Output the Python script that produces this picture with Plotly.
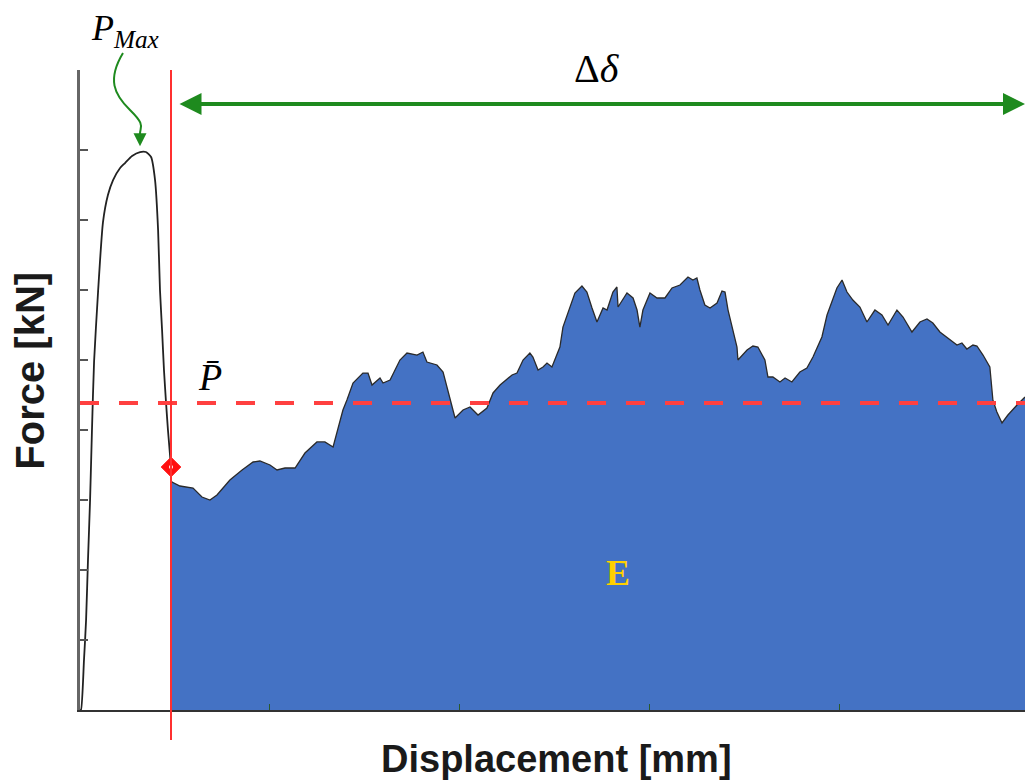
import plotly.graph_objects as go

# ---- data (displacement in mm, force in kN) ----
load_disp = [0.0, 0.05, 0.21, 0.32, 0.42, 0.53, 0.63, 0.74, 0.95, 1.21, 1.47, 1.74, 2.11, 2.37,
             2.74, 3.16, 3.47, 3.74, 3.95, 4.11, 4.21, 4.32, 4.42, 4.53, 4.63, 4.79]
load_force = [0.0, 0.0, 7.14, 12.86, 21.43, 30.0, 40.0, 49.71, 59.71, 69.71, 73.57, 75.71, 77.43, 78.14,
              79.14, 79.71, 79.71, 79.0, 75.71, 68.57, 60.0, 54.29, 48.57, 43.86, 40.0, 34.71]

crush_disp = [4.79, 4.84, 5.26, 5.95, 6.42, 6.84, 7.21, 7.89, 8.53, 9.11,
              9.47, 10.0, 10.37, 10.79, 11.32, 11.84, 12.47, 12.89, 13.32, 13.42,
              13.53, 13.84, 14.05, 14.37, 14.89, 15.16, 15.37, 15.79, 15.95, 16.32,
              16.84, 17.21, 17.74, 18.05, 18.26, 18.79, 19.11, 19.47, 19.74, 20.16,
              20.53, 20.95, 21.42, 21.74, 22.11, 22.74, 23.0, 23.32, 23.68, 23.84,
              24.11, 24.37, 24.58, 24.84, 25.26, 25.42, 25.79, 26.05, 26.42, 26.68,
              26.95, 27.21, 27.53, 27.74, 28.05, 28.26, 28.32, 28.79, 29.11, 29.32,
              29.47, 29.63, 30.0, 30.37, 30.79, 31.16, 31.58, 32.0, 32.26, 32.47,
              32.63, 32.89, 33.16, 33.53, 33.79, 33.95, 34.11, 34.37, 34.58, 34.63,
              35.11, 35.42, 35.68, 36.05, 36.21, 36.47, 36.84, 37.11, 37.47, 37.89,
              38.26, 38.58, 39.05, 39.32, 39.58, 39.84, 40.11, 40.37, 40.68, 41.05,
              41.42, 41.84, 42.21, 42.53, 43.0, 43.32, 43.79, 44.21, 44.58, 44.89,
              45.26, 45.79, 46.16, 46.42, 46.68, 47.0, 47.21, 47.53, 47.89, 48.05,
              48.26, 48.53, 48.84, 49.32, 49.74]
crush_force = [32.86, 32.57, 32.0, 31.71, 30.43, 30.0, 30.71, 32.86, 34.29, 35.43,
               35.57, 35.0, 34.29, 34.57, 34.57, 36.71, 38.29, 38.29, 37.57, 38.57,
               40.0, 42.86, 44.29, 46.71, 48.14, 48.14, 46.43, 47.43, 46.71, 47.14,
               50.0, 51.0, 50.71, 51.14, 49.71, 49.29, 48.29, 44.71, 41.71, 42.86,
               43.29, 42.14, 43.14, 45.29, 46.43, 47.86, 48.14, 50.0, 51.0, 50.43,
               48.57, 49.0, 49.57, 49.0, 51.86, 54.71, 57.43, 59.57, 60.57, 59.71,
               57.43, 55.43, 57.43, 57.14, 59.71, 60.43, 57.57, 59.57, 58.86, 57.14,
               54.71, 57.14, 59.57, 58.86, 58.86, 60.29, 60.71, 61.86, 61.43, 61.71,
               60.0, 57.86, 57.43, 58.14, 59.86, 59.71, 57.14, 54.29, 51.86, 50.0,
               51.43, 52.0, 51.86, 50.0, 47.57, 47.57, 46.86, 47.43, 46.86, 48.29,
               48.86, 50.43, 53.29, 56.43, 58.29, 60.29, 61.43, 59.71, 58.57, 57.57,
               55.43, 57.14, 56.43, 55.0, 57.14, 56.14, 54.0, 55.43, 55.86, 55.29,
               54.0, 52.86, 52.14, 52.43, 51.57, 52.14, 52.0, 50.71, 49.0, 44.29,
               42.57, 41.0, 42.14, 43.57, 44.71]

onset_disp = 4.79        # end of initial peak / start of crushing
onset_force = 34.71
mean_force = 43.86       # P-bar
x_ticks = [0, 10, 20, 30, 40]
y_ticks = [10, 20, 30, 40, 50, 60, 70, 80]
x_max = 49.74
y_max = 91.43

fig = go.Figure()

# crushing region (energy E)
fig.add_trace(go.Scatter(
    x=crush_disp, y=crush_force, mode="lines", fill="tozeroy",
    fillcolor="#4472C4", line=dict(color="#2a2a2a", width=1.3),
    showlegend=False, hoverinfo="skip"))

# initial loading peak
fig.add_trace(go.Scatter(
    x=load_disp, y=load_force, mode="lines",
    line=dict(color="#222222", width=1.8, shape="spline", smoothing=0.6),
    showlegend=False, hoverinfo="skip"))

# mean force dashed line
fig.add_trace(go.Scatter(
    x=[0, x_max], y=[mean_force, mean_force], mode="lines",
    line=dict(color="#FF4040", width=4, dash="19px,20px"),
    showlegend=False, hoverinfo="skip"))

# red vertical line at onset
fig.add_shape(type="line", xref="x", yref="paper", x0=onset_disp, x1=onset_disp,
              y0=-30 / 640, y1=1.0, line=dict(color="#FF3030", width=2), layer="above")

# onset diamond
fig.add_trace(go.Scatter(
    x=[onset_disp], y=[onset_force], mode="markers",
    marker=dict(symbol="diamond", size=15, color="#FF1010", line=dict(color="#FF1010", width=1)),
    showlegend=False, hoverinfo="skip"))
fig.add_trace(go.Scatter(
    x=[onset_disp], y=[onset_force], mode="markers",
    marker=dict(symbol="circle", size=4, color="white", line=dict(width=0)),
    showlegend=False, hoverinfo="skip"))

green = "#1E8A1E"

# delta-delta double arrow
fig.add_annotation(x=x_max, y=86.57, ax=5.16, ay=86.57, xref="x", yref="y", axref="x", ayref="y",
                   text="", showarrow=True, arrowside="end+start", arrowhead=2, startarrowhead=2,
                   arrowsize=1.1, startarrowsize=1.1, arrowwidth=4, arrowcolor=green)

# curvy arrow from P_max label to peak
fig.add_shape(type="path", xref="paper", yref="paper",
              path="M 0.0455,1.0266 C 0.0286,0.985 0.0360,0.962 0.0529,0.9375 S 0.0635,0.912 0.0635,0.900",
              line=dict(color=green, width=2))
fig.add_annotation(xref="paper", yref="paper", x=0.0635, y=0.881, ax=0, ay=-14,
                   text="", showarrow=True, arrowhead=2, arrowsize=1.3, arrowwidth=2, arrowcolor=green)

serif = "Liberation Serif"
fig.add_annotation(xref="paper", yref="paper", x=0.0476, y=1.062, showarrow=False,
                   xanchor="center", yanchor="middle",
                   text="<i>P</i><sub><i>Max</i></sub>", font=dict(family=serif, size=36, color="black"))
fig.add_annotation(xref="paper", yref="paper", x=0.547, y=1.003, showarrow=False,
                   xanchor="center", yanchor="middle",
                   text="Δ<i>δ</i>", font=dict(family=serif, size=40, color="black"))
fig.add_annotation(xref="x", yref="y", x=6.84, y=47.6, showarrow=False,
                   xanchor="center", yanchor="middle",
                   text="<i>P\u0304</i>", font=dict(family=serif, size=38, color="black"))
fig.add_annotation(xref="x", yref="y", x=28.3, y=19.6, showarrow=False,
                   xanchor="center", yanchor="middle",
                   text="<b>E</b>", font=dict(family=serif, size=36, color="#FFD000"))

# axis titles
fig.add_annotation(xref="paper", yref="paper", x=-0.053, y=0.53, showarrow=False, textangle=-90,
                   xanchor="center", yanchor="middle",
                   text="<b>Force [kN]</b>", font=dict(family="Liberation Sans", size=40, color="#1a1a1a"))
fig.add_annotation(xref="paper", yref="paper", x=0.504, y=-0.077, showarrow=False,
                   xanchor="center", yanchor="middle",
                   text="<b>Displacement [mm]</b>", font=dict(family="Liberation Sans", size=38, color="#1a1a1a"))

fig.update_xaxes(range=[0, x_max], showgrid=False, zeroline=False, showline=True,
                 linecolor="#333333", linewidth=1.5, ticks="inside", ticklen=6, tickwidth=1.2,
                 tickcolor="#2a5a2a", tickvals=x_ticks, showticklabels=False)
fig.update_yaxes(range=[0, y_max], showgrid=False, zeroline=False, showline=True,
                 linecolor="#666666", linewidth=2.5, ticks="inside", ticklen=8, tickwidth=1.5,
                 tickcolor="#555555", tickvals=y_ticks, showticklabels=False)

fig.update_layout(width=1025, height=782, margin=dict(l=80, r=0, t=70, b=72),
                  plot_bgcolor="white", paper_bgcolor="white", showlegend=False)

fig.write_html("out.html", config={"displayModeBar": False},
               post_script="document.body.style.margin='0';document.body.style.overflow='hidden';")
